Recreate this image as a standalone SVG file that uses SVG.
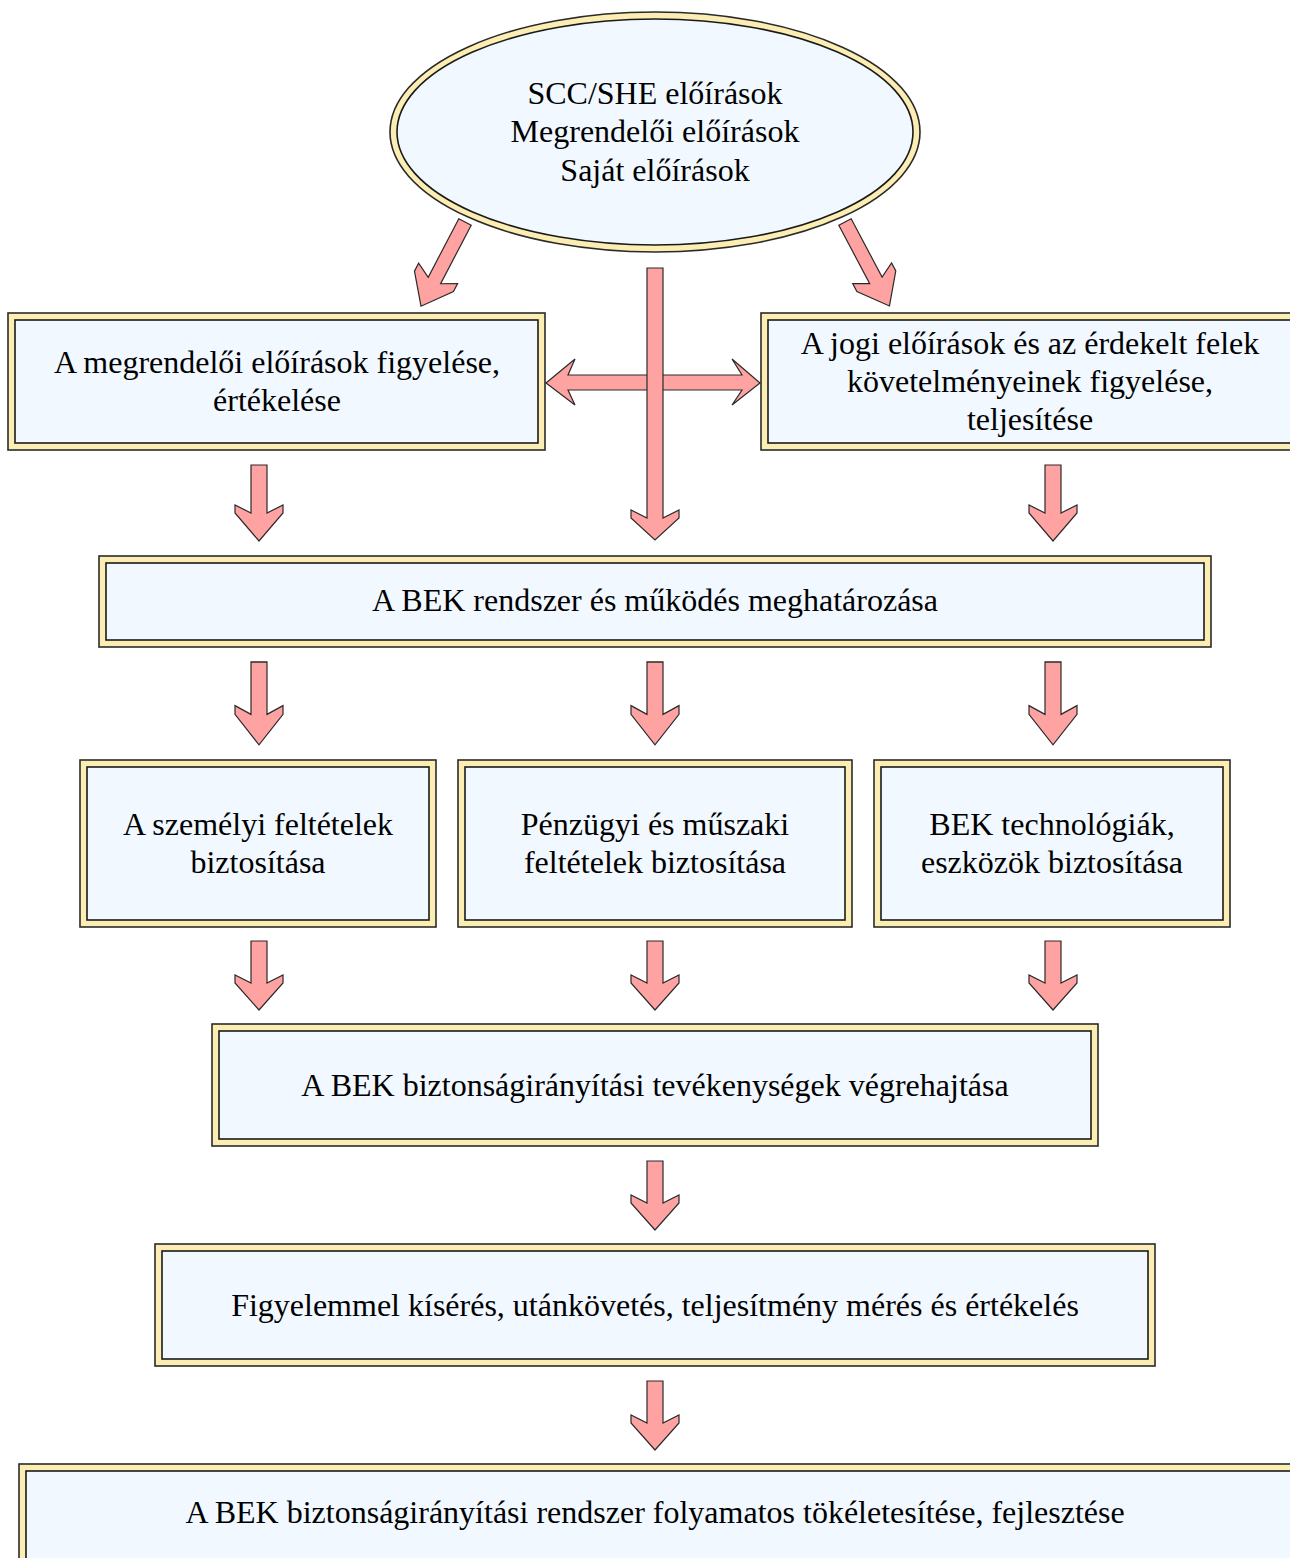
<svg xmlns="http://www.w3.org/2000/svg" width="1290" height="1558" viewBox="0 0 1290 1558">
  <defs>
    <style>
      .frame { fill: #fcedb2; stroke: #2a2a2a; stroke-width: 1.6; }
      .panel { fill: #f1f8ff; stroke: #1a1a1a; stroke-width: 1.6; }
      .arrow { fill: #ffa2a2; stroke: #2a2a2a; stroke-width: 1.2; stroke-linejoin: miter; }
      .lbl { font-family: "Liberation Serif", serif; font-size: 32px; fill: #000; text-anchor: middle; }
    </style>
    <!-- downward block arrows, starting at the origin -->
    <polygon id="dArrow" points="-8,0 8,0 8,48 24,40 24,48 0,76 -24,48 -24,40 -8,48"/>
    <polygon id="dArrowShort" points="-8,0 8,0 8,42 24,34 24,42 0,69 -24,42 -24,34 -8,42"/>
    <polygon id="dArrowDiag" points="-7,0 7,0 7,66 22,58 22,67 0,95 -22,67 -22,58 -7,66"/>
  </defs>

  <!-- source ellipse -->
  <g id="sources">
    <ellipse cx="655" cy="132" rx="265" ry="120" class="frame"/>
    <ellipse cx="655" cy="132" rx="258" ry="113" class="panel"/>
    <text class="lbl" x="655" y="104">SCC/SHE előírások</text>
    <text class="lbl" x="655" y="142">Megrendelői előírások</text>
    <text class="lbl" x="655" y="181">Saját előírások</text>
  </g>

  <g id="client-req">
    <rect x="8" y="313" width="537" height="137" class="frame"/>
    <rect x="15" y="320" width="523" height="123" class="panel"/>
    <text class="lbl" x="277" y="373">A megrendelői előírások figyelése,</text>
    <text class="lbl" x="277" y="411">értékelése</text>
  </g>

  <g id="legal-req">
    <rect x="761" y="313" width="545" height="137" class="frame"/>
    <rect x="768" y="320" width="531" height="123" class="panel"/>
    <text class="lbl" x="1030" y="354">A jogi előírások és az érdekelt felek</text>
    <text class="lbl" x="1030" y="392">követelményeinek figyelése,</text>
    <text class="lbl" x="1030" y="430">teljesítése</text>
  </g>

  <g id="system-def">
    <rect x="99" y="556" width="1112" height="91" class="frame"/>
    <rect x="106" y="563" width="1098" height="77" class="panel"/>
    <text class="lbl" x="655" y="611">A BEK rendszer és működés meghatározása</text>
  </g>

  <g id="personnel">
    <rect x="80" y="760" width="356" height="167" class="frame"/>
    <rect x="87" y="767" width="342" height="153" class="panel"/>
    <text class="lbl" x="258" y="835">A személyi feltételek</text>
    <text class="lbl" x="258" y="873">biztosítása</text>
  </g>

  <g id="finance">
    <rect x="458" y="760" width="394" height="167" class="frame"/>
    <rect x="465" y="767" width="380" height="153" class="panel"/>
    <text class="lbl" x="655" y="835">Pénzügyi és műszaki</text>
    <text class="lbl" x="655" y="873">feltételek biztosítása</text>
  </g>

  <g id="technology">
    <rect x="874" y="760" width="356" height="167" class="frame"/>
    <rect x="881" y="767" width="342" height="153" class="panel"/>
    <text class="lbl" x="1052" y="835">BEK technológiák,</text>
    <text class="lbl" x="1052" y="873">eszközök biztosítása</text>
  </g>

  <g id="execution">
    <rect x="212" y="1024" width="886" height="122" class="frame"/>
    <rect x="219" y="1031" width="872" height="108" class="panel"/>
    <text class="lbl" x="655" y="1096">A BEK biztonságirányítási tevékenységek végrehajtása</text>
  </g>

  <g id="monitoring">
    <rect x="155" y="1244" width="1000" height="122" class="frame"/>
    <rect x="162" y="1251" width="986" height="108" class="panel"/>
    <text class="lbl" x="655" y="1316">Figyelemmel kísérés, utánkövetés, teljesítmény mérés és értékelés</text>
  </g>

  <g id="improvement">
    <rect x="19" y="1464" width="1290" height="110" class="frame"/>
    <rect x="26" y="1471" width="1276" height="96" class="panel"/>
    <text class="lbl" x="655" y="1523">A BEK biztonságirányítási rendszer folyamatos tökéletesítése, fejlesztése</text>
  </g>

  <g id="connectors">
    <!-- diagonal arrows out of the ellipse -->
    <use href="#dArrowDiag" class="arrow" transform="translate(465,222) rotate(27.6)"/>
    <use href="#dArrowDiag" class="arrow" transform="translate(845,222) rotate(-27.9)"/>

    <!-- horizontal double-headed arrow between the two upper boxes -->
    <polygon class="arrow" points="546,383 575,359 568,375 742,375 732,359 760,383 732,405 742,390 568,390 575,405"/>
    <!-- long central arrow -->
    <polygon class="arrow" points="647,268 663,268 663,518 679,510 679,518 655,540 631,518 631,510 647,518"/>

    <!-- row 1 -->
    <use href="#dArrow" class="arrow" transform="translate(259,465)"/>
    <use href="#dArrow" class="arrow" transform="translate(1053,465)"/>

    <!-- row 2 -->
    <use href="#dArrow" class="arrow" transform="translate(259,662) scale(1,1.09)"/>
    <use href="#dArrow" class="arrow" transform="translate(655,662) scale(1,1.09)"/>
    <use href="#dArrow" class="arrow" transform="translate(1053,662) scale(1,1.09)"/>

    <!-- row 3 -->
    <use href="#dArrowShort" class="arrow" transform="translate(259,941)"/>
    <use href="#dArrowShort" class="arrow" transform="translate(655,941)"/>
    <use href="#dArrowShort" class="arrow" transform="translate(1053,941)"/>

    <!-- rows 4 and 5 -->
    <use href="#dArrowShort" class="arrow" transform="translate(655,1161)"/>
    <use href="#dArrowShort" class="arrow" transform="translate(655,1381)"/>
  </g>
</svg>
